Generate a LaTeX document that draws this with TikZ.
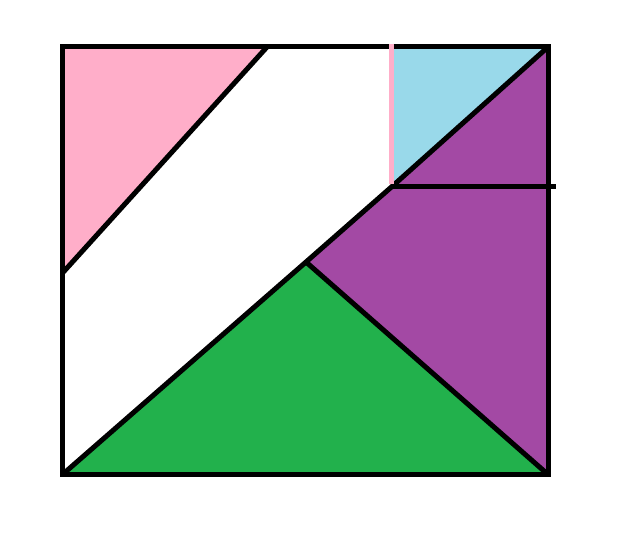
\documentclass[tikz,border=0pt]{standalone}
\begin{document}
\begin{tikzpicture}[x=1pt,y=-1pt,
  edge/.style={draw=black,line width=5pt},
  piece/.style={draw=none}]
\definecolor{pinkc}{HTML}{FFAEC9}
\definecolor{bluec}{HTML}{99D9EA}
\definecolor{purplec}{HTML}{A349A4}
\definecolor{greenc}{HTML}{22B14C}
\useasboundingbox (0,0) rectangle (628,534);
\coordinate (TL) at (62.5,47);
\coordinate (TR) at (548,47);
\coordinate (BR) at (548,474.5);
\coordinate (BL) at (62.5,474.5);
\coordinate (P1) at (267,47);
\coordinate (P2) at (62.5,273);
\coordinate (M) at (391.5,47);
\coordinate (C) at (392,186.5);
\coordinate (H) at (556,186.5);
\coordinate (A) at (306,262);
% pieces
\fill[pinkc] (TL) -- (P1) -- (P2) -- cycle;
\fill[bluec] (M) -- (TR) -- (C) -- cycle;
\fill[purplec] (C) -- (TR) -- (BR) -- (A) -- cycle;
\fill[greenc] (BL) -- (A) -- (BR) -- cycle;
% outline and cuts
\draw[edge] (TL) rectangle (BR);
\draw[edge] (P1) -- (P2);
\draw[edge] (TR) -- (C) -- (A) -- (BL);
\draw[edge] (A) -- (BR);
\draw[pinkc,line width=4.5pt] (391.5,44) -- (391.5,184);
\draw[edge] (C) -- (H);
\end{tikzpicture}
\end{document}
